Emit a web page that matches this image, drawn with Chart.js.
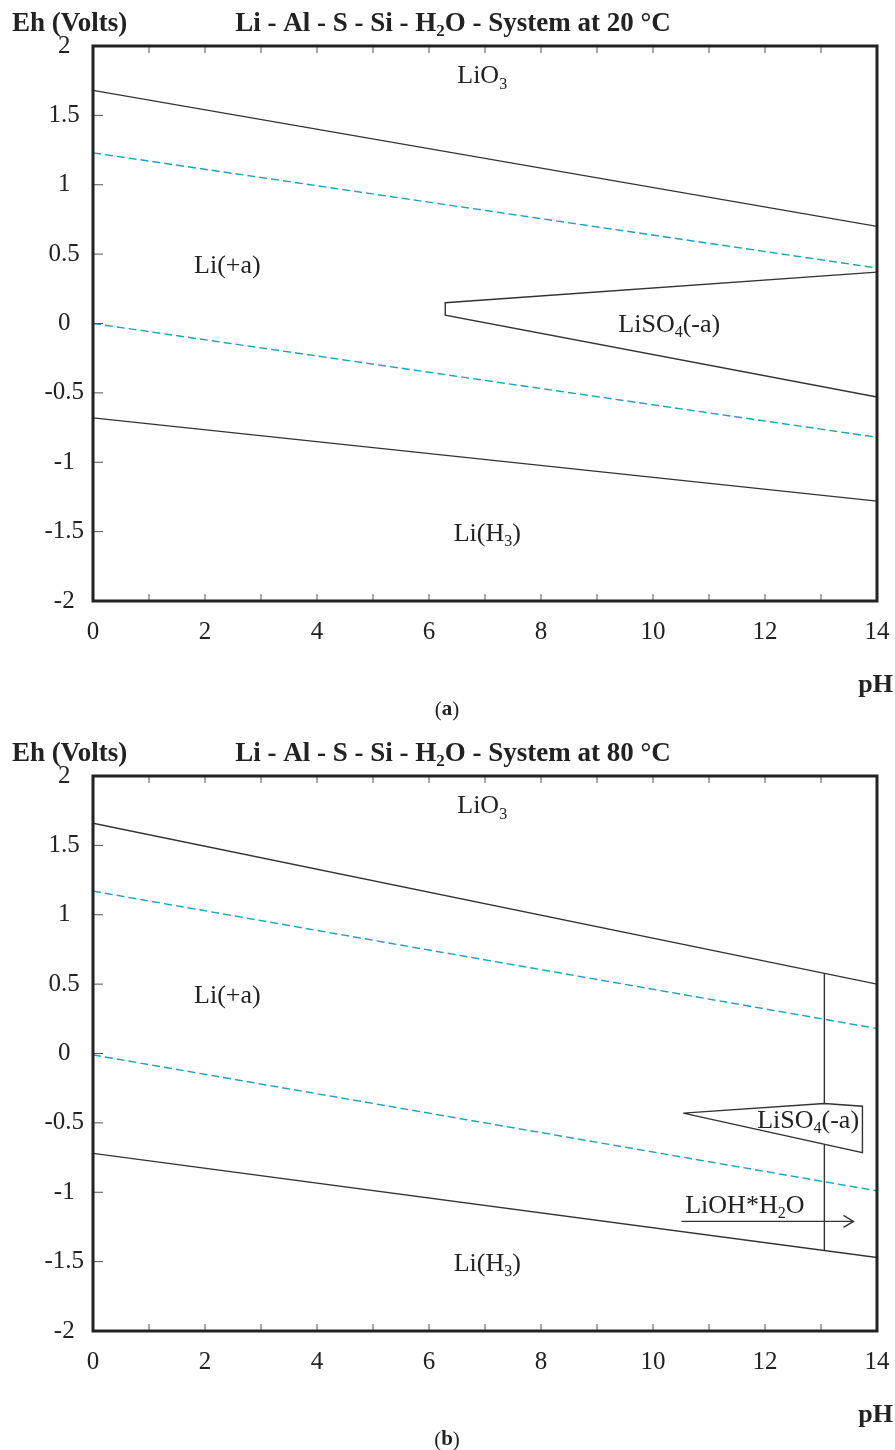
<!DOCTYPE html>
<html>
<head>
<meta charset="utf-8">
<script src="https://cdn.jsdelivr.net/npm/chart.js@4.4.1/dist/chart.umd.min.js"></script>
<style>
  body { margin: 0; background: #fff; width: 895px; }
  canvas { display: block; }
</style>
</head>
<body>
<canvas id="chartA" width="895" height="730"></canvas>
<canvas id="chartB" width="895" height="720"></canvas>
<script>
// pH end points shared by all straight boundaries
const phEnds = [0, 14];

// (a) 20 °C
const a_oxideLimit = [1.68, 0.70];
const a_waterUpper = [1.23, 0.40];
const a_waterLower = [0.00, -0.82];
const a_hydrideLimit = [-0.68, -1.28];
const a_wedgePh = [14, 6.29, 6.29, 14];
const a_wedgeEh = [0.37, 0.15, 0.06, -0.53];

// (b) 80 °C
const b_oxideLimit = [1.66, 0.50];
const b_waterUpper = [1.17, 0.18];
const b_waterLower = [-0.01, -0.99];
const b_hydrideLimit = [-0.72, -1.47];
const b_splitPh = [13.06, 13.06];
const b_splitUpperEh = [0.58, -0.36];
const b_splitLowerEh = [-0.66, -1.42];
const b_wedgePh = [10.54, 13.06, 13.74, 13.74, 10.54];
const b_wedgeEh = [-0.43, -0.36, -0.38, -0.715, -0.43];
const b_arrowPh = [10.51, 13.58];
const b_arrowEh = [-1.21, -1.21];

// region labels (text, pH, Eh)
const a_labels = [
  ['LiO_{3}', 6.95, 1.78],
  ['Li(+a)', 2.4, 0.41],
  ['LiSO_{4}(-a)', 10.29, -0.01],
  ['Li(H_{3})', 7.04, -1.52]
];
const b_labels = [
  ['LiO_{3}', 6.95, 1.78],
  ['Li(+a)', 2.4, 0.41],
  ['LiSO_{4}(-a)', 12.77, -0.49],
  ['LiOH*H_{2}O', 11.64, -1.10],
  ['Li(H_{3})', 7.04, -1.52]
];

const SERIF = '"Liberation Serif", "Times New Roman", serif';
Chart.defaults.font.family = SERIF;
Chart.defaults.color = '#222';

const pts = (xs, ys) => xs.map((x, i) => ({ x: x, y: ys[i] }));

function solid(xs, ys) {
  return { data: pts(xs, ys), showLine: true, borderColor: '#333', borderWidth: 1.4, pointRadius: 0, fill: false };
}
function dashed(xs, ys) {
  return { data: pts(xs, ys), showLine: true, borderColor: '#1aa3b8', borderWidth: 1.4, borderDash: [8, 4], pointRadius: 0, fill: false };
}

// draws text with _{..} subscripts
function drawRich(ctx, str, x, y, size, bold, align) {
  const parts = str.split(/_\{([^}]*)\}/);
  const main = (bold ? 'bold ' : '') + size + 'px ' + SERIF;
  const sub = (bold ? 'bold ' : '') + Math.round(size * 0.62) + 'px ' + SERIF;
  let w = 0;
  parts.forEach((p, i) => { ctx.font = i % 2 ? sub : main; w += ctx.measureText(p).width; });
  let cx = align === 'center' ? x - w / 2 : align === 'right' ? x - w : x;
  ctx.textAlign = 'left';
  ctx.textBaseline = 'middle';
  parts.forEach((p, i) => {
    ctx.font = i % 2 ? sub : main;
    ctx.fillText(p, cx, i % 2 ? y + size * 0.3 : y);
    cx += ctx.measureText(p).width;
  });
}

function makePlugin(temp, letter, labels, arrow) {
  return {
    id: 'pourbaixDecor',
    afterDraw(chart) {
      const { ctx, chartArea: { left, right, top, bottom }, scales: { x, y } } = chart;
      ctx.save();
      // inward ticks
      ctx.strokeStyle = '#555';
      ctx.lineWidth = 1;
      ctx.beginPath();
      x.ticks.forEach(t => {
        const px = x.getPixelForValue(t.value);
        ctx.moveTo(px, bottom); ctx.lineTo(px, bottom - 7);
        ctx.moveTo(px, top); ctx.lineTo(px, top + 7);
      });
      y.ticks.forEach(t => {
        const py = y.getPixelForValue(t.value);
        ctx.moveTo(left, py); ctx.lineTo(left + 10, py);
      });
      ctx.stroke();
      // frame
      ctx.strokeStyle = '#222';
      ctx.lineWidth = 3;
      ctx.strokeRect(left, top, right - left, bottom - top);

      // arrow head
      if (arrow) {
        const ax = x.getPixelForValue(arrow[0]);
        const ay = y.getPixelForValue(arrow[1]);
        ctx.strokeStyle = '#333';
        ctx.lineWidth = 1.4;
        ctx.beginPath();
        ctx.moveTo(ax - 10, ay - 6); ctx.lineTo(ax, ay); ctx.lineTo(ax - 10, ay + 6);
        ctx.stroke();
      }

      ctx.fillStyle = '#222';
      labels.forEach(l => drawRich(ctx, l[0], x.getPixelForValue(l[1]), y.getPixelForValue(l[2]), 26, false, 'center'));

      // titles
      drawRich(ctx, 'Eh (Volts)', 12, 24, 27, true, 'left');
      drawRich(ctx, 'Li - Al - S - Si - H_{2}O - System at ' + temp + ' °C', 453, 24, 27, true, 'center');
      drawRich(ctx, 'pH', 893, bottom + 84, 26, true, 'right');

      // panel letter "(a)"
      const ly = bottom + 109;
      ctx.font = '21px ' + SERIF;
      const wp = ctx.measureText('(').width;
      ctx.font = 'bold 21px ' + SERIF;
      const wl = ctx.measureText(letter).width;
      let cx = 447 - (2 * wp + wl) / 2;
      ctx.textAlign = 'left';
      ctx.textBaseline = 'middle';
      ctx.font = '21px ' + SERIF; ctx.fillText('(', cx, ly); cx += wp;
      ctx.font = 'bold 21px ' + SERIF; ctx.fillText(letter, cx, ly); cx += wl;
      ctx.font = '21px ' + SERIF; ctx.fillText(')', cx, ly);
      ctx.restore();
    }
  };
}

function buildChart(id, datasets, plugin, h) {
  new Chart(document.getElementById(id).getContext('2d'), {
    type: 'scatter',
    data: { datasets: datasets },
    options: {
      responsive: false,
      animation: false,
      layout: { padding: { top: 46, right: 18, left: 0, bottom: 0 } },
      plugins: { legend: { display: false }, tooltip: { enabled: false } },
      scales: {
        x: {
          type: 'linear', min: 0, max: 14,
          grid: { display: false, drawTicks: false },
          border: { display: false },
          afterFit: s => { s.height = h - 601; s.paddingLeft = 0; s.paddingRight = 0; },
          ticks: {
            stepSize: 1, padding: 16, maxRotation: 0, autoSkip: false,
            font: { size: 25 }, color: '#222',
            callback: v => (v % 2 === 0 ? String(v) : '')
          }
        },
        y: {
          type: 'linear', min: -2, max: 2,
          grid: { display: false, drawTicks: false },
          border: { display: false },
          afterFit: s => { s.width = 93; s.paddingTop = 0; s.paddingBottom = 0; },
          ticks: {
            stepSize: 0.5, padding: 9, crossAlign: 'center',
            font: { size: 25 }, color: '#222',
            callback: v => String(Math.round(v * 10) / 10)
          }
        }
      }
    },
    plugins: [plugin]
  });
}

buildChart('chartA', [
  solid(phEnds, a_oxideLimit),
  dashed(phEnds, a_waterUpper),
  dashed(phEnds, a_waterLower),
  solid(phEnds, a_hydrideLimit),
  solid(a_wedgePh, a_wedgeEh)
], makePlugin(20, 'a', a_labels, null), 730);

buildChart('chartB', [
  solid(phEnds, b_oxideLimit),
  dashed(phEnds, b_waterUpper),
  dashed(phEnds, b_waterLower),
  solid(phEnds, b_hydrideLimit),
  solid(b_splitPh, b_splitUpperEh),
  solid(b_splitPh, b_splitLowerEh),
  solid(b_wedgePh, b_wedgeEh),
  solid(b_arrowPh, b_arrowEh)
], makePlugin(80, 'b', b_labels, [b_arrowPh[1], b_arrowEh[1]]), 720);
</script>
</body>
</html>
